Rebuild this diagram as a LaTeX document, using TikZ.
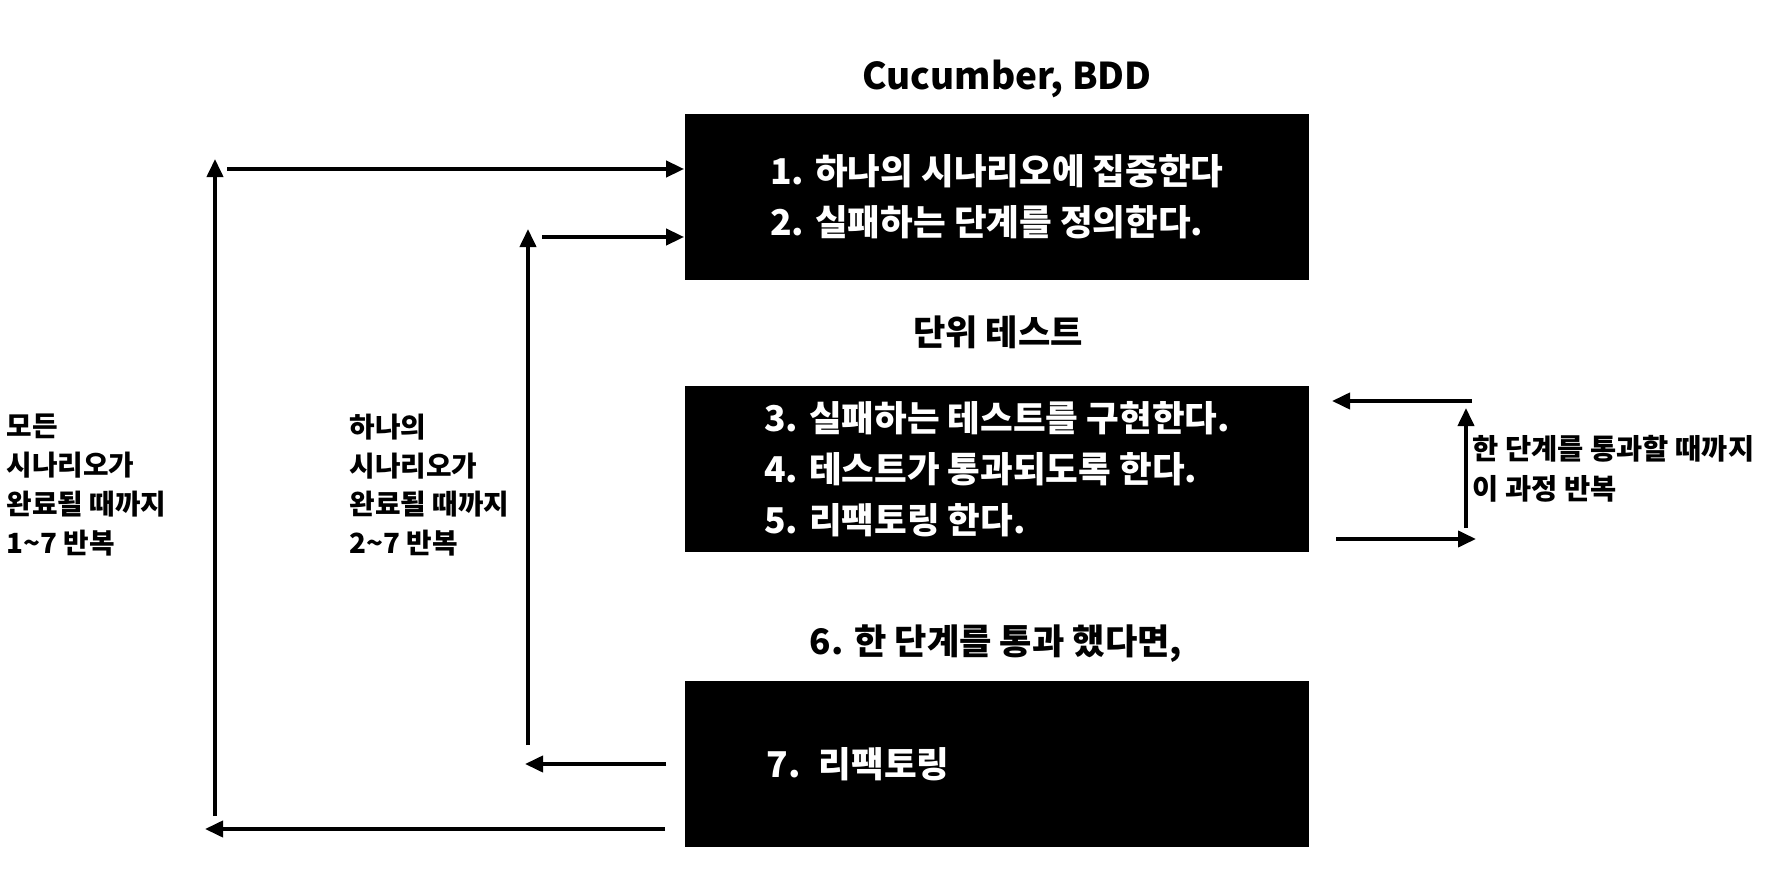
\documentclass[tikz,border=0pt]{standalone}
\usepackage{fontspec}
\setmainfont{Noto Sans CJK KR}
\usetikzlibrary{arrows.meta}

\tikzset{
  box/.style={fill=black, text=white, align=left, inner sep=0pt,
    minimum width=6.24cm, minimum height=1.65cm,
    font=\bfseries\fontsize{10.1}{14.5}\selectfont},
  title/.style={inner sep=0pt, font=\bfseries\fontsize{10}{12}\selectfont},
  note/.style={inner sep=0pt, align=left, anchor=west,
    font=\bfseries\fontsize{7.9}{11}\selectfont},
  loop/.style={->, line width=1.1pt}
}

\begin{document}
\begin{tikzpicture}[x=0.01cm, y=-0.01cm, >={Triangle[length=1.8mm, width=1.6mm]}]
    \useasboundingbox (0,0) rectangle (1778,894);

    % titles and boxes
    \node[title, font=\bfseries\fontsize{10.5}{12}\selectfont] (cuke) at (1007,79) {Cucumber, BDD};
    \node[box] (b1) at (997,197) {1. 하나의 시나리오에 집중한다\\2. 실패하는 단계를 정의한다.};
    \node[title] (unit) at (998,332) {단위 테스트};
    \node[box] (b2) at (997,469) {3. 실패하는 테스트를 구현한다.\\4. 테스트가 통과되도록 한다.\\5. 리팩토링 한다.};
    \node[title] (pass) at (996,644) {6. 한 단계를 통과 했다면,};
    \node[box, text width=4.6cm, inner xsep=0.82cm] (b3) at (997,764) {7. 리팩토링};

    % loop labels
    \node[note] (allsc) at (6,485) {모든\\시나리오가\\완료될 때까지\\1\textasciitilde 7 반복};
    \node[note] (onesc) at (349,485) {하나의\\시나리오가\\완료될 때까지\\2\textasciitilde 7 반복};
    \node[note, font=\bfseries\fontsize{8.1}{11.3}\selectfont] (onestep) at (1472,469) {한 단계를 통과할 때까지\\이 과정 반복};

    % outer loop
    \coordinate (O1) at (665,829);
    \coordinate (O2) at (205,829);
    \coordinate (O3) at (215,816);
    \coordinate (O4) at (215,159);
    \coordinate (O5) at (227,169);
    \draw[loop] (O1) -- (O2);
    \draw[loop] (O3) -- (O4);
    \draw[loop] (O5) -- (O5 -| b1.west);

    % inner loop
    \coordinate (I1) at (666,764);
    \coordinate (I2) at (525,764);
    \coordinate (I3) at (528,745);
    \coordinate (I4) at (528,229);
    \coordinate (I5) at (542,237);
    \draw[loop] (I1) -- (I2);
    \draw[loop] (I3) -- (I4);
    \draw[loop] (I5) -- (I5 -| b1.west);

    % unit test loop
    \coordinate (R1) at (1336,539);
    \coordinate (R2) at (1476,539);
    \coordinate (R3) at (1466,528);
    \coordinate (R4) at (1466,408);
    \coordinate (R5) at (1472,401);
    \coordinate (R6) at (1332,401);
    \draw[loop] (R1) -- (R2);
    \draw[loop] (R3) -- (R4);
    \draw[loop] (R5) -- (R6);
\end{tikzpicture}
\end{document}
